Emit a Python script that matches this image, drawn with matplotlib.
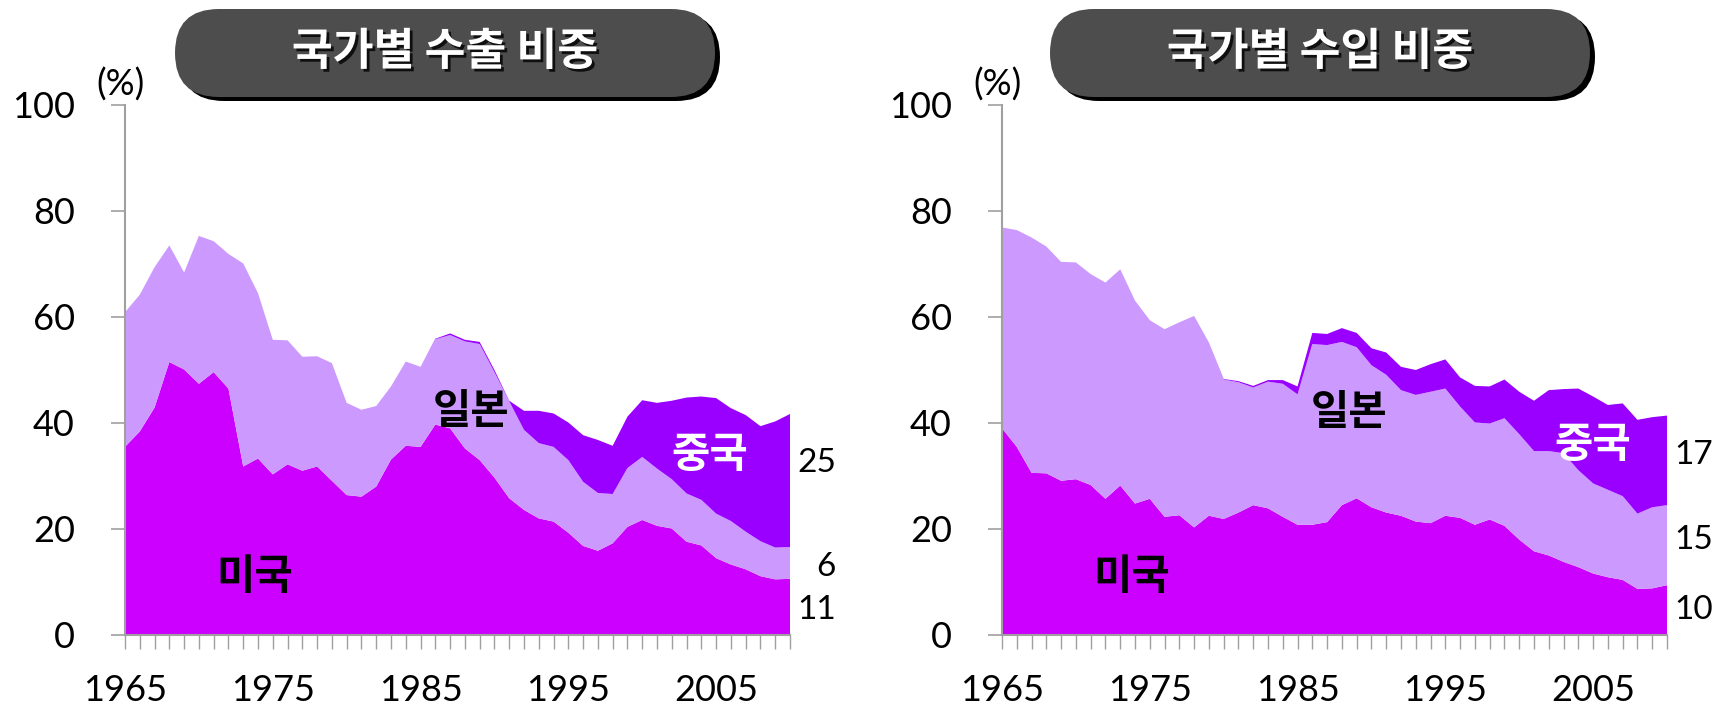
import matplotlib
matplotlib.use('Agg')
import matplotlib.pyplot as plt
from matplotlib.patches import FancyBboxPatch
import matplotlib.patheffects as pe

plt.rcParams['font.family'] = ['Lato', 'Noto Sans CJK KR', 'DejaVu Sans']

years = list(range(1965, 2011))

# 수출 비중 (%)
exp_us = [35.5, 38.4, 42.9, 51.5, 50.1, 47.4, 49.6, 46.5, 31.8, 33.3, 30.3, 32.2, 31.0, 31.8, 29.1, 26.4,
          26.1, 28.0, 33.1, 35.7, 35.5, 39.7, 39.0, 35.2, 33.0, 29.7, 25.8, 23.6, 22.0, 21.4, 19.3, 16.8,
          15.9, 17.3, 20.4, 21.7, 20.6, 20.1, 17.6, 16.9, 14.5, 13.3, 12.4, 11.1, 10.5, 10.6]
exp_japan = [25.4, 25.8, 26.5, 22.0, 18.3, 27.9, 24.7, 25.4, 38.3, 31.2, 25.4, 23.4, 21.5, 20.8, 22.2, 17.4,
             16.4, 15.2, 13.8, 15.9, 15.1, 16.1, 17.6, 20.2, 21.9, 19.9, 18.3, 15.1, 14.2, 14.1, 13.7, 12.1,
             10.9, 9.3, 11.1, 11.9, 10.8, 9.3, 9.1, 8.6, 8.4, 8.2, 7.1, 6.6, 6.0, 6.0]
exp_china = [0, 0, 0, 0, 0, 0, 0, 0, 0, 0, 0, 0, 0, 0, 0, 0,
             0, 0, 0, 0, 0, 0.1, 0.3, 0.3, 0.4, 0.4, 0.1, 3.6, 6.1, 6.3, 7.1, 8.8,
             10.0, 9.1, 9.7, 10.7, 12.4, 14.8, 18.1, 19.5, 21.8, 21.3, 22.0, 21.7, 23.8, 25.1]

# 수입 비중 (%)
imp_us = [39.0, 35.5, 30.6, 30.5, 29.1, 29.4, 28.3, 25.7, 28.2, 24.8, 25.7, 22.3, 22.6, 20.3, 22.5, 21.9,
          23.1, 24.5, 23.9, 22.3, 20.8, 20.8, 21.3, 24.5, 25.8, 24.1, 23.1, 22.5, 21.4, 21.1, 22.5, 22.1,
          20.8, 21.8, 20.6, 18.0, 15.8, 15.0, 13.8, 12.8, 11.6, 10.9, 10.4, 8.7, 8.8, 9.4]
imp_japan = [37.9, 40.9, 44.4, 42.8, 41.3, 40.9, 39.8, 40.8, 40.8, 38.3, 33.7, 35.4, 36.4, 39.9, 32.7, 26.3,
             24.6, 22.2, 23.9, 25.1, 24.6, 34.1, 33.4, 30.8, 28.5, 26.8, 26.0, 23.7, 23.9, 24.8, 24.0, 21.0,
             19.3, 18.1, 20.3, 19.9, 18.9, 19.7, 20.5, 18.3, 17.0, 16.5, 15.8, 14.2, 15.3, 15.1]
imp_china = [0, 0, 0, 0, 0, 0, 0, 0, 0, 0, 0, 0, 0, 0, 0, 0.1,
             0.2, 0.3, 0.3, 0.7, 1.5, 2.1, 2.1, 2.6, 2.7, 3.2, 4.2, 4.4, 4.7, 5.2, 5.5, 5.5,
             6.9, 7.0, 7.3, 8.0, 9.5, 11.5, 12.1, 15.4, 16.4, 16.0, 17.5, 17.7, 17.0, 16.9]

titles = ['국가별 수출 비중', '국가별 수입 비중']
last_labels = [['25', '6', '11'], ['17', '15', '10']]
last_label_y = [[32.5, 12.8, 4.7], [34.0, 17.9, 4.7]]
name_pos = [
    {'미국': (1973.8, 10.9), '일본': (1988.4, 42.1), '중국': (2004.6, 34.0)},
    {'미국': (1973.8, 10.9), '일본': (1988.5, 41.9), '중국': (2005.0, 35.8)},
]

colors = ['#CC00FF', '#CC99FF', '#9900FF']
spine_gray = '#A0A0A0'

fig = plt.figure(figsize=(17.33, 7.08), dpi=100)
fig.patch.set_facecolor('white')

axes_left = [125 / 1733, 1002 / 1733]
data = [(exp_us, exp_japan, exp_china), (imp_us, imp_japan, imp_china)]

for k in range(2):
    ax = fig.add_axes([axes_left[k], 73 / 708, 665 / 1733, 530 / 708])
    us, jp, cn = data[k]
    ax.stackplot(years, us, jp, cn, colors=colors, linewidth=0)
    ax.set_xlim(1965, 2010)
    ax.set_ylim(0, 100)
    for s in ['top', 'right']:
        ax.spines[s].set_visible(False)
    for s in ['left', 'bottom']:
        ax.spines[s].set_color(spine_gray)
        ax.spines[s].set_linewidth(1.5)
    ax.set_yticks([0, 20, 40, 60, 80, 100])
    ax.set_xticks([1965, 1975, 1985, 1995, 2005])
    ax.set_xticks(years, minor=True)
    ax.tick_params(axis='y', direction='out', length=10, width=1.2, color=spine_gray,
                   labelsize=26, pad=26)
    ax.tick_params(axis='x', which='both', direction='out', length=10, width=1,
                   color=spine_gray, labelsize=26, pad=18)
    ax.text(1964.7, 103.8, '(%)', fontsize=26, ha='center', va='center', clip_on=False)

    # 국가 이름
    for name, (x, y) in name_pos[k].items():
        ax.text(x, y, name, fontsize=30, fontweight='bold', ha='center', va='center',
                color='white' if name == '중국' else 'black', family='Noto Sans CJK KR')

    # 2010년 값
    for lab, y in zip(last_labels[k], last_label_y[k]):
        ax.text(2013.1, y, lab, fontsize=24, ha='right', va='center', clip_on=False)

# 제목 상자 (픽셀 좌표)
over = fig.add_axes([0, 0, 1, 1])
over.set_xlim(0, 1733)
over.set_ylim(708, 0)
over.axis('off')
over.patch.set_alpha(0)

box_x = [175, 1050]
for k in range(2):
    x0 = box_x[k]
    w, h = 540, 88
    shadow = FancyBboxPatch((x0 + 5, 13), w, h, boxstyle='round,pad=0,rounding_size=44',
                            facecolor='black', edgecolor='none')
    box = FancyBboxPatch((x0, 9), w, h, boxstyle='round,pad=0,rounding_size=44',
                         facecolor='#4D4D4D', edgecolor='none')
    over.add_patch(shadow)
    over.add_patch(box)
    over.text(x0 + w / 2, 52, titles[k], fontsize=32, fontweight='bold', color='white',
              ha='center', va='center', family='Noto Sans CJK KR',
              path_effects=[pe.withSimplePatchShadow(offset=(2, -2), shadow_rgbFace='black', alpha=0.8)])

fig.savefig('out.png', dpi=100)
